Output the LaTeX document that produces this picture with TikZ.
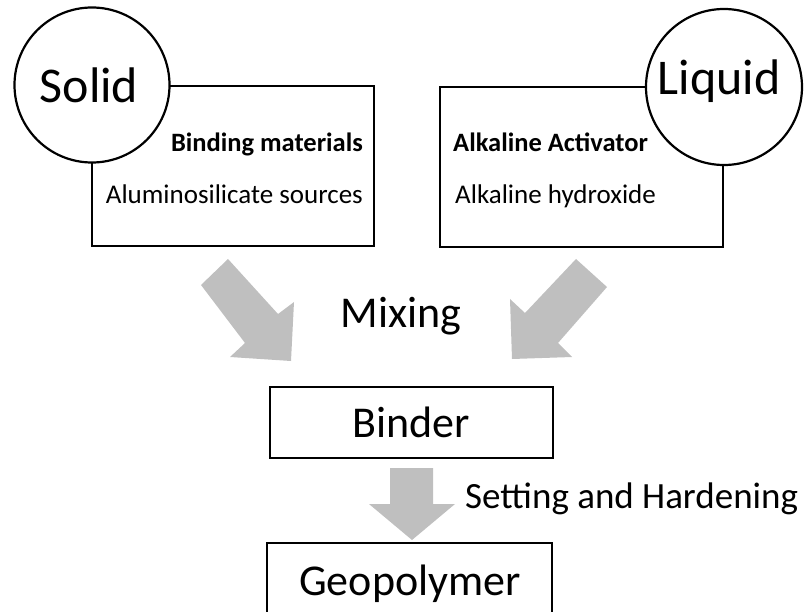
\documentclass[tikz,border=0pt]{standalone}
\usepackage{fontspec}
\setmainfont{Carlito}
\definecolor{arrowgray}{HTML}{BFBFBF}
\begin{document}
\begin{tikzpicture}[x=1pt,y=-1pt,
  box/.style={draw=black,line width=2.2pt,fill=white},
  ring/.style={draw=black,line width=2.2pt,fill=white,circle,inner sep=0pt},
  bigtxt/.style={font=\fontsize{50}{60}\selectfont,inner sep=0pt},
  midtxt/.style={font=\fontsize{44}{52}\selectfont,inner sep=0pt},
  settxt/.style={font=\fontsize{37}{44}\selectfont,inner sep=0pt},
  smalltxt/.style={font=\fontsize{27}{32}\selectfont,inner sep=0pt},
  boldtxt/.style={font=\fontsize{26.5}{32}\selectfont\bfseries,inner sep=0pt},
  blockarrow/.style={fill=arrowgray,draw=none}]
\useasboundingbox (0,0) rectangle (811,612);
\clip (0,0) rectangle (811,612);
% upper boxes
\draw[box] (92,86) rectangle (374,246);
\draw[box] (440,87) rectangle (723,247);
% circles
\node[ring,minimum size=155pt] (solid) at (92,85) {};
\node[ring,minimum size=156pt] (liquid) at (724,87) {};
\node[bigtxt,anchor=base] (solidtxt) at (89,103) {Solid};
\node[bigtxt,anchor=base] (liquidtxt) at (719,95) {Liquid};
% texts in boxes
\node[boldtxt,anchor=base east] (bind) at (363,152) {Binding materials};
\node[smalltxt,anchor=base east] (alum) at (363,204) {Aluminosilicate sources};
\node[boldtxt,anchor=base west] (act) at (453,152) {Alkaline Activator};
\node[smalltxt,anchor=base west] (hyd) at (455,204) {Alkaline hydroxide};
% mixing arrows
\fill[blockarrow] (228,259) -- (278,314) -- (294,302) -- (291,361) -- (230,357) -- (245,343) -- (201,285) -- cycle;
\fill[blockarrow] (576,259) -- (607,287) -- (558,343) -- (572,357) -- (512,359) -- (510,299) -- (525,313) -- cycle;
\node[midtxt,anchor=base] (mix) at (401,327) {Mixing};
% binder
\draw[box] (270,387) rectangle (553,458);
\node[midtxt,anchor=base] (binder) at (411,437) {Binder};
% down arrow
\fill[blockarrow] (390,468) -- (433,468) -- (433,504) -- (455,504) -- (412,540) -- (369,504) -- (390,504) -- cycle;
\node[settxt,anchor=base west] (set) at (465,508) {Setting and Hardening};
% geopolymer
\draw[box] (267,543) rectangle (552,630);
\node[midtxt,anchor=base] (geo) at (410,595) {Geopolymer};
\end{tikzpicture}
\end{document}
